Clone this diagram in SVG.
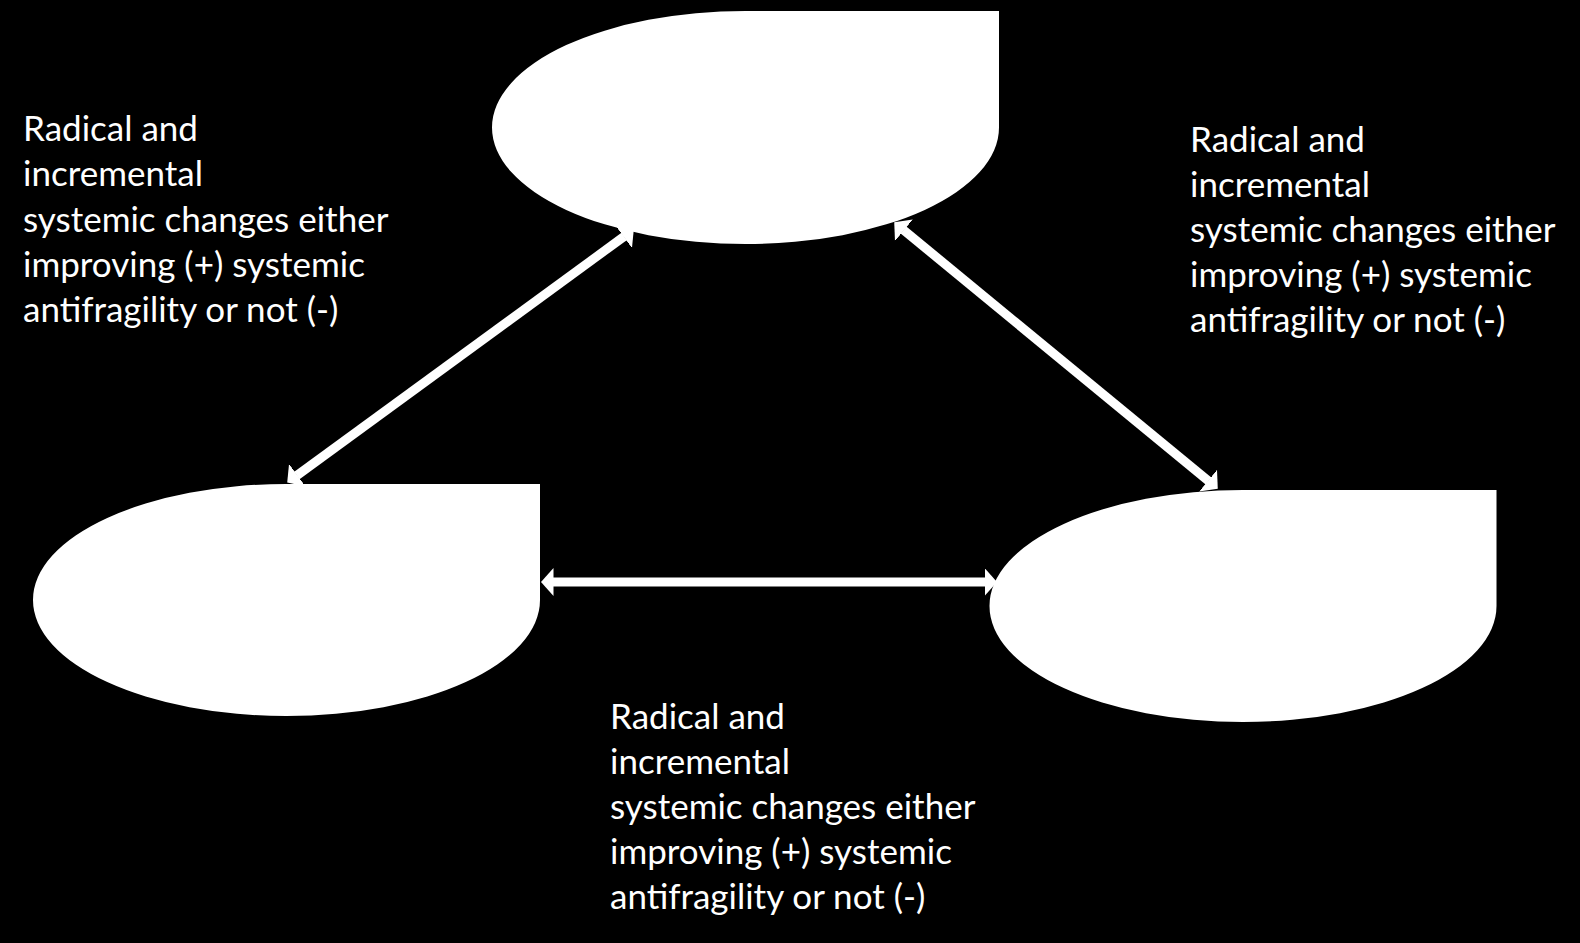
<svg xmlns="http://www.w3.org/2000/svg" width="1580" height="943" viewBox="0 0 1580 943">
  <style>
    .node { fill: #ffffff; stroke: none; }
    .lbl { fill: #ffffff; font-family: Lato, "Liberation Sans", sans-serif; font-size: 35px; }
    .conn { stroke: #ffffff; stroke-width: 9; fill: none; marker-start: url(#head); marker-end: url(#head); }
  </style>
  <defs>
    <marker id="head" markerUnits="userSpaceOnUse" viewBox="0 -14 13 28" refX="0.5" refY="0" markerWidth="13" markerHeight="28" orient="auto-start-reverse">
      <path d="M0,-14 L12.5,0 L0,14 Z" fill="#ffffff"/>
    </marker>
  </defs>
  <rect x="0" y="0" width="1580" height="943" fill="#000000"/>

  <g id="node-top">
    <path class="node" d="M745.5,11 L999,11 L999,127.5 A253.5,116.5 0 0 1 745.5,244 A253.5,116.5 0 0 1 492,127.5 A253.5,116.5 0 0 1 745.5,11 Z"/>
  </g>
  <g id="node-left">
    <path class="node" d="M286.5,484 L540,484 L540,600 A253.5,116 0 0 1 286.5,716 A253.5,116 0 0 1 33,600 A253.5,116 0 0 1 286.5,484 Z"/>
  </g>
  <g id="node-right">
    <path class="node" d="M1243,490 L1496.5,490 L1496.5,606 A253.5,116 0 0 1 1243,722 A253.5,116 0 0 1 989.5,606 A253.5,116 0 0 1 1243,490 Z"/>
  </g>

  <g id="connectors">
    <line class="conn" x1="624.1" y1="236.5" x2="296.9" y2="475.5"/>
    <line class="conn" x1="903.5" y1="230" x2="1208.5" y2="481"/>
    <line class="conn" x1="553" y1="582" x2="985" y2="582"/>
  </g>

  <g id="label-left">
    <text class="lbl" x="23" y="141.3">Radical and</text>
    <text class="lbl" x="23" y="186.4">incremental</text>
    <text class="lbl" x="23" y="231.5">systemic changes either</text>
    <text class="lbl" x="23" y="276.6">improving (+) systemic</text>
    <text class="lbl" x="23" y="321.7">antifragility or not (-)</text>
  </g>
  <g id="label-right">
    <text class="lbl" x="1190" y="151.5">Radical and</text>
    <text class="lbl" x="1190" y="196.6">incremental</text>
    <text class="lbl" x="1190" y="241.7">systemic changes either</text>
    <text class="lbl" x="1190" y="286.8">improving (+) systemic</text>
    <text class="lbl" x="1190" y="331.9">antifragility or not (-)</text>
  </g>
  <g id="label-bottom">
    <text class="lbl" x="610" y="729">Radical and</text>
    <text class="lbl" x="610" y="774.1">incremental</text>
    <text class="lbl" x="610" y="819.2">systemic changes either</text>
    <text class="lbl" x="610" y="864.3">improving (+) systemic</text>
    <text class="lbl" x="610" y="909.4">antifragility or not (-)</text>
  </g>
</svg>
